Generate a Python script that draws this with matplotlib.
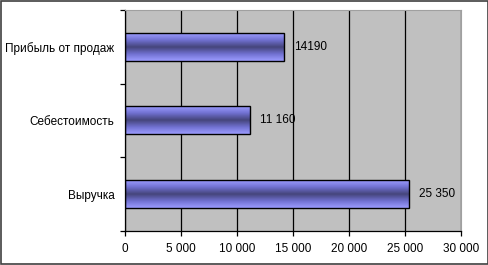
import matplotlib.pyplot as plt
import numpy as np
from matplotlib.colors import LinearSegmentedColormap
from matplotlib.patches import Rectangle

categories = ["Выручка", "Себестоимость", "Прибыль от продаж"]
values = [25350, 11160, 14190]
value_labels = ["25 350", "11 160", "14190"]
x_ticks = [0, 5000, 10000, 15000, 20000, 25000, 30000]
x_tick_labels = ["0", "5 000", "10 000", "15 000", "20 000", "25 000", "30 000"]

plt.rcParams['font.family'] = ['Liberation Sans', 'DejaVu Sans']
plt.rcParams['font.size'] = 8.5

fig = plt.figure(figsize=(4.89, 2.65), dpi=100)
fig.patch.set_facecolor('white')
fig.patches.append(Rectangle((0.002, 0.004), 0.995, 0.992, transform=fig.transFigure,
                             fill=False, edgecolor='#404040', linewidth=1.2))

ax = fig.add_axes([0.2556, 0.1283, 0.6871, 0.834])
ax.set_facecolor('#c0c0c0')

# vertical gradient: light edges, dark centre
cmap = LinearSegmentedColormap.from_list('bar', ['#9c9cff', '#7070d0', '#45457a', '#7070d0', '#9c9cff'])
grad = np.linspace(0, 1, 64).reshape(-1, 1)

h = 0.38
y = np.arange(len(categories))
bars = ax.barh(y, values, height=h, color='none', edgecolor='black', linewidth=1, zorder=3)
for b in bars:
    x0, y0 = b.get_x(), b.get_y()
    ax.imshow(grad, cmap=cmap, aspect='auto', extent=(x0, x0 + b.get_width(), y0, y0 + b.get_height()),
              zorder=2, interpolation='bilinear')

for yi, v, lab in zip(y, values, value_labels):
    ax.annotate(lab, (v, yi), xytext=(7.5, 0), textcoords='offset points', va='center', ha='left',
                zorder=4)

ax.set_xlim(0, 30000)
ax.set_ylim(-0.5, 2.5)
ax.set_xticks(x_ticks)
ax.set_xticklabels(x_tick_labels)
ax.xaxis.grid(True, color='black', linewidth=0.9)
ax.set_axisbelow(True)

ax.set_yticks([-0.5, 0.5, 1.5, 2.5])
ax.set_yticklabels([])
ax.set_yticks(y, minor=True)
ax.set_yticklabels(categories, minor=True)
ax.tick_params(axis='y', which='minor', length=0, pad=7.5)
ax.tick_params(axis='both', which='major', length=3.5, width=0.9, direction='out', color='black')
ax.tick_params(axis='x', pad=5)

for side in ['top', 'right']:
    ax.spines[side].set_color('#a0a0a0')
    ax.spines[side].set_linewidth(0.8)
for side in ['left', 'bottom']:
    ax.spines[side].set_color('black')
    ax.spines[side].set_linewidth(0.9)

fig.savefig('out.png', dpi=100)
